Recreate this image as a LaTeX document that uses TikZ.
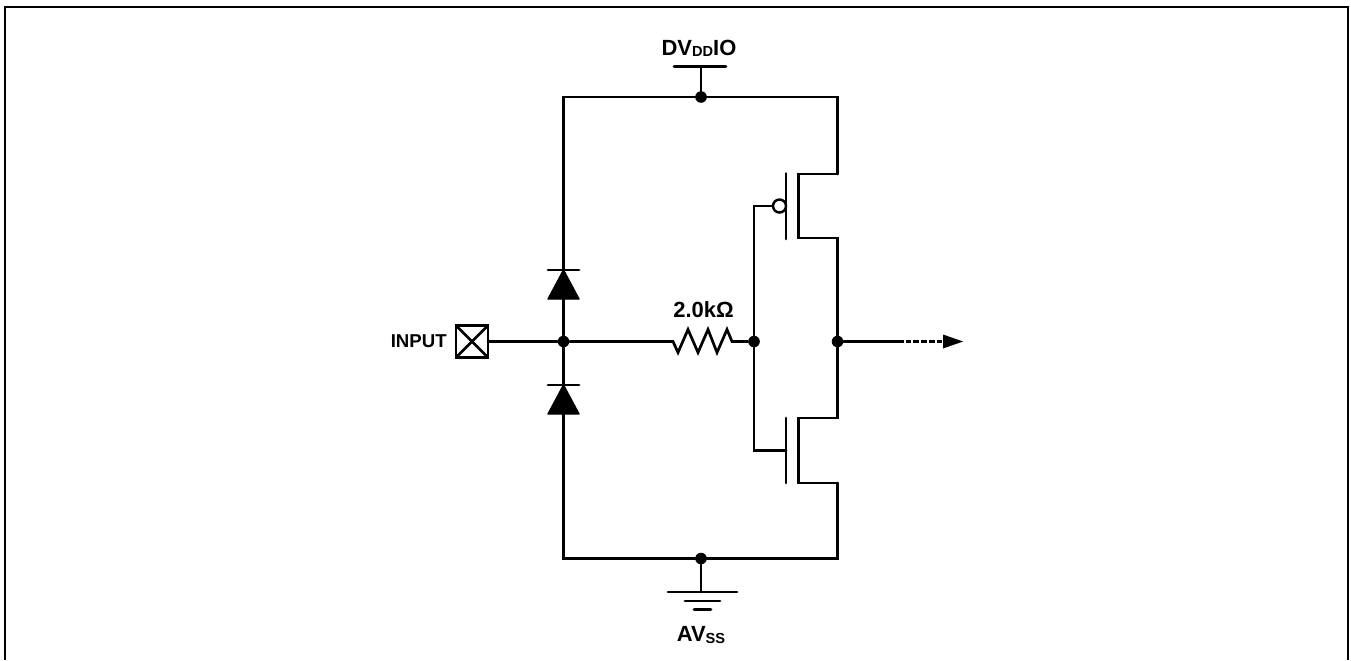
\documentclass[tikz,border=0pt]{standalone}
\usepackage{fontspec}
\setmainfont{Liberation Sans}
\tikzset{
  wire/.style={draw=black, line width=1.55pt, line cap=round, line join=miter},
  frameline/.style={draw=black, line width=1.25pt},
  dot/.style={circle, fill=black, inner sep=0pt, minimum size=6.6pt},
  lab/.style={font=\fontsize{12.5}{14}\selectfont\bfseries, inner sep=0pt},
  padlab/.style={font=\fontsize{10.6}{12}\selectfont\bfseries, inner sep=0pt},
  diodehead/.style={draw=black, fill=black, line width=0.8pt, line join=round},
}
\newcommand{\labsub}[2]{\raisebox{#1}{\fontsize{8.3}{10}\selectfont #2}}

\begin{document}
\begin{tikzpicture}[x=0.02cm,y=-0.02cm]
  \useasboundingbox (0,0) rectangle (1351,660);
  \draw[frameline] (5,660)--(5,7)--(1348,7)--(1348,660);

  % rails
  \coordinate (topL) at (563.5,97);
  \coordinate (topR) at (837.5,97);
  \coordinate (botL) at (563.5,558.5);
  \coordinate (botR) at (837.5,558.5);
  \node[dot] (vdd) at (701,97) {};
  \node[dot] (vss) at (701,558.5) {};
  \node[dot] (inJ) at (563.5,341.5) {};
  \node[dot] (gateJ) at (754,341.5) {};
  \node[dot] (outJ) at (837.5,341.5) {};
  \draw[wire] (inJ)--(topL)--(topR)--(837.5,174);
  \draw[wire] (inJ)--(botL)--(botR)--(837.5,483);

  % supply and ground
  \coordinate (vddbar) at (701,66.5);
  \coordinate (gnd) at (701,592);
  \draw[wire] (vdd)--(vddbar);
  \draw[wire] (674,66.5)--(726,66.5);
  \draw[wire] (vss)--(gnd);
  \draw[wire] (668,592)--(737,592);
  \draw[wire] (685,601)--(720,601);
  \draw[wire] (694,609.5)--(711,609.5);
  \node[lab] (vddlab) at (699,48) {DV\labsub{-0.5pt}{DD}IO};
  \node[lab] (vsslab) at (701,635) {AV\labsub{-1.5pt}{SS}};

  % input pad
  \node[draw=black, line width=1.55pt, minimum size=18.2pt, inner sep=0pt, outer sep=0pt] (pad) at (472,341.5) {};
  \draw[wire, line cap=butt] (pad.north west)--(pad.south east);
  \draw[wire, line cap=butt] (pad.south west)--(pad.north east);
  \draw[wire] (pad)--(inJ);
  \node[padlab,anchor=east] (inlab) at (447,341) {INPUT};

  % diodes
  \draw[wire] (548,270)--(579,270);
  \draw[diodehead] (563.5,270)--(579,299)--(548,299)--cycle;
  \draw[wire] (548,385)--(579,385);
  \draw[diodehead] (563.5,385)--(579,414)--(548,414)--cycle;

  % resistor
  \draw[wire] (inJ)--(673,341.5)--(678,352.5)--(688,329.5)--(698,352.5)--(708,329.5)--(717,352.5)--(727,329.5)--(732,341.5)--(gateJ);
  \node[lab] (rlab) at (703.5,310) {2.0kΩ};

  % pmos
  \draw[wire] (gateJ)--(754,206)--(773,206);
  \node[circle, draw=black, fill=white, line width=1.4pt, inner sep=0pt, minimum size=7.4pt, outer sep=0pt] (bubble) at (779.5,206) {};
  \draw[wire] (786,173.5)--(786,239);
  \draw[wire] (837.5,174)--(798.5,174)--(798.5,238)--(837.5,238)--(outJ);

  % nmos
  \draw[wire] (gateJ)--(754,450.5)--(786,450.5);
  \draw[wire] (786,418)--(786,483);
  \draw[wire] (outJ)--(837.5,418)--(798.5,418)--(798.5,483)--(837.5,483);

  % output
  \coordinate (outE) at (898,341.5);
  \coordinate (outTip) at (963,341.5);
  \draw[wire] (outJ)--(outE);
  \draw[wire, line width=2pt, dash pattern=on 3.2pt off 1.2pt, line cap=butt] (outE)--(943,341.5);
  \fill (943,334.5)--(outTip)--(943,348.5)--cycle;
\end{tikzpicture}
\end{document}
